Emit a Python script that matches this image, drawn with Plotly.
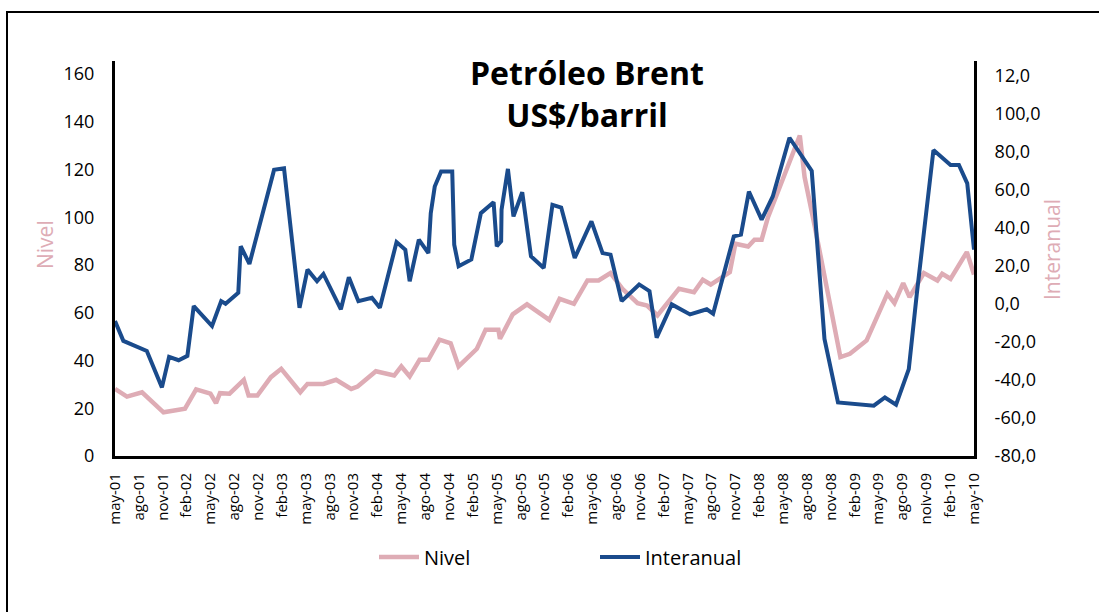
import plotly.graph_objects as go

# Tick labels (every 3 months, may-01 .. may-10)
tick_labels = ["may-01", "ago-01", "nov-01", "feb-02", "may-02", "ago-02", "nov-02", "feb-03",
               "may-03", "ago-03", "nov-03", "feb-04", "may-04", "ago-04", "nov-04", "feb-05",
               "may-05", "ago-05", "nov-05", "feb-06", "may-06", "ago-06", "nov-06", "feb-07",
               "may-07", "ago-07", "nov-07", "feb-08", "may-08", "ago-08", "nov-08", "feb-09",
               "may-09", "ago-09", "noiv-09", "feb-10", "may-10"]
tick_pos = [3 * i for i in range(len(tick_labels))]

# Nivel (US$/barril), time in months since may-01
nivel_t = [0, 1.5, 3.4, 6.1, 8.8, 10.2, 12.0, 12.7, 13.2, 14.4, 16.2, 16.8, 17.9, 19.6, 20.9,
           23.3, 24.2, 26.2, 27.8, 29.7, 30.5, 32.8, 35.1, 36.0, 37.05, 38.3, 39.4, 40.8, 42.2,
           43.2, 45.5, 46.6, 48.2, 48.4, 50.0, 51.8, 54.6, 55.9, 57.7, 59.4, 60.8, 62.3, 63.8,
           65.7, 66.9, 68.2, 70.9, 72.8, 73.9, 74.9, 77.3, 78.0, 79.6, 80.4, 81.3, 82.1, 86.1,
           86.7, 88.0, 91.2, 92.4, 94.5, 97.1, 98.0, 99.1, 99.9, 101.7, 103.4, 104.0, 105.05,
           107.1, 108]
nivel_v = [28.1, 24.9, 26.7, 18.3, 19.8, 27.9, 26.1, 22.1, 26.3, 26.1, 31.9, 25.3, 25.3, 33.0, 36.5,
           26.7, 30.2, 30.2, 31.9, 28.1, 29.1, 35.5, 33.7, 37.5, 33.3, 40.3, 40.3, 48.7, 47.2,
           37.5, 44.9, 52.9, 52.9, 49.1, 59.3, 63.5, 57.0, 65.8, 63.7, 73.5, 73.5, 76.6, 70.0,
           64.0, 63.0, 58.9, 70.0, 68.6, 73.8, 71.8, 77.0, 88.9, 87.7, 90.6, 90.6, 100.0, 134.2,
           116.8, 95.8, 41.4, 42.8, 48.4, 67.9, 64.0, 72.4, 66.5, 76.6, 73.5, 76.3, 74.2,
           85.4, 76.0]

# Interanual (% variation)
inter_t = [0, 1.05, 4.0, 5.9, 6.8, 8.0, 9.1, 9.9, 12.2, 13.35, 13.9, 15.5, 15.8, 16.9, 20.0,
           21.25, 23.2, 24.2, 25.4, 26.2, 28.4, 29.4, 30.6, 32.3, 33.3, 35.4, 36.5, 37.05, 38.2,
           39.4, 39.7, 40.2, 41.0, 42.4, 42.65, 43.2, 44.8, 46.0, 47.6, 48.0, 48.55, 48.6, 49.4,
           50.1, 51.2, 52.3, 53.9, 55.0, 56.1, 57.8, 59.9, 61.3, 62.3, 63.7, 65.9, 67.2, 68.1,
           70.0, 72.3, 74.4, 75.2, 77.8, 78.7, 79.7, 81.3, 82.7, 84.8, 86.5, 87.6, 89.2, 90.9,
           95.4, 96.8, 98.2, 99.8, 100.8, 102.9, 105.05, 106.1, 107.15, 108]
inter_v = [-9.0, -19.4, -24.7, -43.9, -27.8, -29.6, -27.3, -1.1, -11.6, 1.5, 0.1, 5.9, 30.4, 21.1, 70.6,
           71.4, -2.0, 18.1, 12.0, 15.8, -2.8, 14.1, 1.5, 3.3, -2.0, 32.6, 28.6, 12.0, 33.9,
           26.8, 47.8, 61.8, 69.7, 69.7, 31.2, 19.9, 23.4, 47.8, 53.6, 30.4, 33.0, 49.6, 71.1,
           46.1, 58.8, 25.1, 19.0, 52.2, 50.8, 24.2, 43.5, 26.8, 26.0, 1.5, 10.3, 6.8, -17.7,
           -0.2, -5.5, -2.8, -5.1, 35.6, 36.5, 59.2, 44.4, 56.6, 87.5, 77.0, 70.0, -18.4, -51.8,
           -53.5, -49.2, -53.0, -34.3, 5.0, 81.0, 73.2, 73.2, 63.5, 28.6]

left_ticks = [0, 20, 40, 60, 80, 100, 120, 140, 160]
right_ticks = [-80, -60, -40, -20, 0, 20, 40, 60, 80, 100, 120]
right_ticktext = ["-80,0", "-60,0", "-40,0", "-20,0", "0,0", "20,0", "40,0", "60,0", "80,0", "100,0", "12,0"]

PINK = "#deacb5"
BLUE = "#1a4b8c"
FONT = "Open Sans"

# plot area in page pixels
PL, PR, PT, PB = 115, 974, 61, 456
PW, PH = PR - PL, PB - PT

fig = go.Figure()
fig.add_trace(go.Scatter(x=inter_t, y=inter_v, name="Interanual", mode="lines",
                         line=dict(color=BLUE, width=4), yaxis="y2", legendrank=2))
fig.add_trace(go.Scatter(x=nivel_t, y=nivel_v, name="Nivel", mode="lines",
                         line=dict(color=PINK, width=4.5), yaxis="y", legendrank=1))

fig.update_layout(
    width=1099, height=612,
    margin=dict(l=PL, r=1099 - PR, t=PT, b=612 - PB),
    paper_bgcolor="white", plot_bgcolor="white",
    font=dict(family=FONT, color="black"),
    showlegend=True,
    legend=dict(orientation="h", x=(374 - PL) / PW, xanchor="left", y=-(557 - PB) / PH,
                yanchor="middle", entrywidth=166, entrywidthmode="pixels",
                font=dict(size=20, family=FONT, color="black"), bgcolor="rgba(0,0,0,0)",
                itemwidth=40, traceorder="normal"),
    xaxis=dict(range=[0, 108], tickvals=tick_pos, ticktext=tick_labels, tickangle=-90,
               showgrid=False, zeroline=False, showline=True, linecolor="black", linewidth=3,
               ticks="", tickfont=dict(size=15, family=FONT), ticklabelstandoff=8),
    yaxis=dict(range=[0, 165.4], tickvals=left_ticks, showgrid=False, zeroline=False,
               showline=True, linecolor="black", linewidth=3, ticks="",
               tickfont=dict(size=18, family=FONT), ticklabelstandoff=14),
    yaxis2=dict(range=[-80, 127.9], tickvals=right_ticks, ticktext=right_ticktext,
                overlaying="y", side="right", showgrid=False, zeroline=False,
                showline=True, linecolor="black", linewidth=3, ticks="",
                tickfont=dict(size=18, family=FONT), ticklabelstandoff=14),
    annotations=[
        dict(text="<b>Petróleo Brent</b><br><b>US$/barril</b>", xref="paper", yref="paper",
             x=(587 - PL) / PW, y=(PB - 93) / PH, xanchor="center", yanchor="middle",
             showarrow=False, font=dict(size=32, family=FONT, color="black")),
        dict(text="Nivel", xref="paper", yref="paper", x=(45 - PL) / PW, y=(PB - 245) / PH,
             textangle=-90, showarrow=False, xanchor="center", yanchor="middle",
             font=dict(size=21, family=FONT, color=PINK)),
        dict(text="Interanual", xref="paper", yref="paper", x=(1052 - PL) / PW,
             y=(PB - 250) / PH, textangle=-90, showarrow=False, xanchor="center",
             yanchor="middle", font=dict(size=21, family=FONT, color=PINK)),
    ],
    shapes=[
        dict(type="rect", xref="paper", yref="paper", x0=(7 - PL) / PW, x1=1.3,
             y0=-0.6, y1=(PB - 12) / PH, line=dict(color="black", width=2),
             fillcolor="rgba(0,0,0,0)", layer="below"),
    ],
)

fig.write_html("out.html", config={"displayModeBar": False})

# remove the browser's default body margin so the figure sits at the page origin
with open("out.html", "r", encoding="utf-8") as f:
    html = f.read()
html = html.replace("<body>", '<body style="margin:0;padding:0;">', 1)
with open("out.html", "w", encoding="utf-8") as f:
    f.write(html)
